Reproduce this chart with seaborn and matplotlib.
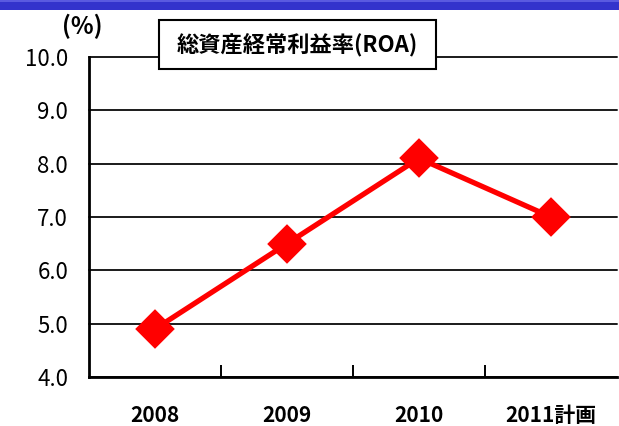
import matplotlib
matplotlib.use("Agg")
import matplotlib.pyplot as plt
import seaborn as sns
import pandas as pd
from matplotlib.patches import Rectangle

categories = ["2008", "2009", "2010", "2011計画"]
roa_values = [4.9, 6.5, 8.1, 7.0]
y_ticks = [4.0, 5.0, 6.0, 7.0, 8.0, 9.0, 10.0]
title_text = "総資産経常利益率(ROA)"
unit_text = "(%)"

sns.set_theme(style="white")
plt.rcParams["font.family"] = ["Noto Sans CJK JP", "DejaVu Sans"]
plt.rcParams["text.color"] = "black"
plt.rcParams["xtick.color"] = "black"
plt.rcParams["ytick.color"] = "black"

df = pd.DataFrame({"year": categories, "roa": roa_values})

fig = plt.figure(figsize=(6.19, 4.26), dpi=100)
ax = fig.add_axes([89 / 619, 1 - 377 / 426, 528 / 619, 320 / 426])

# gridlines
for t in y_ticks:
    ax.axhline(t, color="#1a1a1a", lw=1.4, zorder=1)

sns.pointplot(data=df, x="year", y="roa", color="#ff0000", marker="D",
              markersize=17, linewidth=3.8, ax=ax, zorder=5)
for ln in ax.lines:
    ln.set_clip_on(False)

ax.set_xlim(-0.5, len(categories) - 0.5)
ax.set_ylim(4.0, 10.0)
ax.set_yticks(y_ticks)
ax.set_yticklabels([f"{t:.1f}" for t in y_ticks], fontsize=16, color="black")
ax.tick_params(axis="y", length=0, pad=15)

ax.set_xticks(range(len(categories)))
ax.set_xticklabels(categories, fontsize=15, fontweight="bold", color="black")
ax.tick_params(axis="x", length=0, pad=20)
# minor ticks between categories, inward
ax.set_xticks([0.5, 1.5, 2.5], minor=True)
ax.tick_params(axis="x", which="minor", direction="in", length=9, width=1.4,
               color="black", bottom=True)
ax.set_xlabel("")
ax.set_ylabel("")

for side in ["top", "right"]:
    ax.spines[side].set_visible(False)
for side in ["left", "bottom"]:
    ax.spines[side].set_color("black")
    ax.spines[side].set_linewidth(2.0)

# top blue band
fig.patches.append(Rectangle((0, 1 - 10 / 426), 1, 10 / 426, transform=fig.transFigure,
                             facecolor="#3333cc", edgecolor="none", zorder=10))
fig.patches.append(Rectangle((0, 1 - 2 / 426), 1, 2 / 426, transform=fig.transFigure,
                             facecolor="#5a5ae0", edgecolor="none", zorder=11))

# title box
fig.patches.append(Rectangle((159 / 619, 1 - 69 / 426), 277 / 619, 49 / 426,
                             transform=fig.transFigure, facecolor="white",
                             edgecolor="black", lw=1.5, zorder=10))
fig.text(297 / 619, 1 - 45 / 426, title_text, ha="center", va="center",
         fontsize=16, fontweight="bold", color="black", zorder=12)

fig.text(82 / 619, 1 - 26 / 426, unit_text, ha="center", va="center",
         fontsize=17, fontweight="bold", color="black", zorder=12)

fig.savefig("out.png", dpi=100)
